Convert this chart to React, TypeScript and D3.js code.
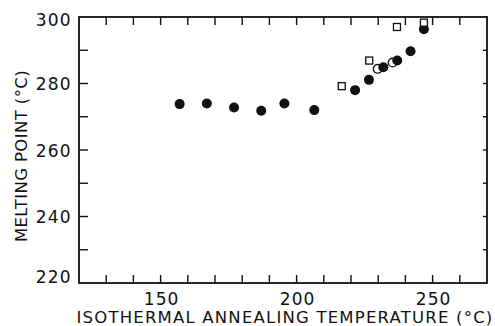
import React from "react";
import * as d3 from "d3";

const filledX = [157, 167, 177, 187, 195.5, 206.5, 221.5, 226.6, 231.9, 237.0, 241.9, 246.8];
const filledY = [273.8, 274.0, 272.8, 271.8, 274.0, 272.0, 278.0, 281.1, 284.9, 286.9, 289.7, 296.3];
const openCircleX = [229.8, 235.3];
const openCircleY = [284.4, 286.3];
const squareX = [216.6, 226.7, 236.9, 246.8];
const squareY = [279.2, 286.9, 297.0, 298.3];

const xTickLabels = [150, 200, 250];
const yTickLabels = [220, 240, 260, 280, 300];
const xMinorTicks = [130, 140, 150, 160, 170, 180, 190, 200, 210, 220, 230, 240, 250, 260];
const yMinorTicks = [230, 240, 250, 260, 270, 280, 290];

export default function App() {
  const W = 495, H = 326;
  const x = d3.scaleLinear().domain([120, 270]).range([79, 487]);
  const y = d3.scaleLinear().domain([220, 300]).range([283, 17]);
  const font = "'DejaVu Sans', sans-serif";
  const x0 = x(120), x1 = x(270), y0 = y(220), y1 = y(300);
  const yLabelShift = (t: number) => (t === 220 ? -7 : t === 300 ? 2 : 0);

  return (
    <svg width={W} height={H} style={{ position: "absolute", left: 0, top: 0, background: "#fff" }}>
      <rect x={x0} y={y1} width={x1 - x0} height={y0 - y1} fill="none" stroke="#111" strokeWidth={1.8} />
      {xMinorTicks.map((t) => (
        <g key={"xt" + t}>
          <line x1={x(t)} x2={x(t)} y1={y0} y2={y0 - 8} stroke="#111" strokeWidth={1.4} />
          <line x1={x(t)} x2={x(t)} y1={y1} y2={y1 + 8} stroke="#111" strokeWidth={1.4} />
        </g>
      ))}
      {yMinorTicks.map((t) => (
        <g key={"yt" + t}>
          <line x1={x0} x2={x0 + 9} y1={y(t)} y2={y(t)} stroke="#111" strokeWidth={1.4} />
          <line x1={x1} x2={x1 - 4} y1={y(t)} y2={y(t)} stroke="#111" strokeWidth={1.4} />
        </g>
      ))}
      {xTickLabels.map((t) => (
        <text key={"xl" + t} x={x(t) + 1} y={305} textAnchor="middle" fontFamily={font} fontSize={17} letterSpacing={1} fill="#111">
          {t}
        </text>
      ))}
      {yTickLabels.map((t) => (
        <text key={"yl" + t} x={72} y={y(t) + 6.5 + yLabelShift(t)} textAnchor="end" fontFamily={font} fontSize={17} letterSpacing={1.3} fill="#111">
          {t}
        </text>
      ))}
      <text x={285} y={323} textAnchor="middle" fontFamily={font} fontSize={16.5} letterSpacing={1.2} fill="#111">
        ISOTHERMAL ANNEALING TEMPERATURE (°C)
      </text>
      <text
        transform={`translate(27, 156) rotate(-90)`}
        textAnchor="middle"
        fontFamily={font}
        fontSize={16.5}
        letterSpacing={0.4}
        fill="#111"
      >
        MELTING POINT (°C)
      </text>
      {openCircleX.map((v, i) => (
        <circle key={"oc" + i} cx={x(v)} cy={y(openCircleY[i])} r={4.3} fill="#fff" stroke="#111" strokeWidth={1.4} />
      ))}
      {filledX.map((v, i) => (
        <circle key={"fc" + i} cx={x(v)} cy={y(filledY[i])} r={5} fill="#111" />
      ))}
      {squareX.map((v, i) => (
        <rect key={"sq" + i} x={x(v) - 3.5} y={y(squareY[i]) - 3.5} width={7} height={7} fill="#fff" stroke="#111" strokeWidth={1.3} />
      ))}
    </svg>
  );
}
